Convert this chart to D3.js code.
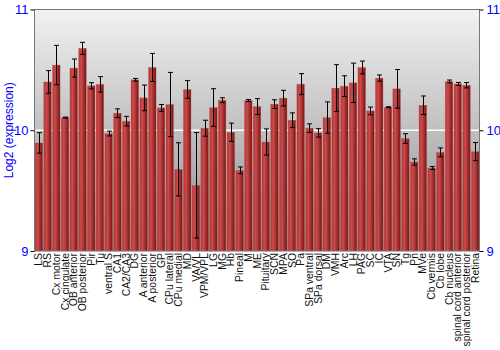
<!DOCTYPE html>
<html>
<head>
<meta charset="utf-8">
<script src="https://cdn.jsdelivr.net/npm/d3@7"></script>
<style>
  body { margin: 0; background: #fff; }
  text { font-family: "Liberation Sans", Arial, sans-serif; }
</style>
</head>
<body>
<svg></svg>
<script>
let width = 500;
let height = 350;

// brain regions
let regions = ["LS", "RS", "Cx motor", "Cx cingulate", "OB anterior", "OB posterior", "Pir", "Tu",
  "ventral S", "CA1", "CA2/CA3", "DG", "A anterior", "A posterior", "GP", "CPu lateral", "CPu medial",
  "MD", "VA/VL", "VPM/VPL", "LG", "MG", "Hb", "Pineal", "M", "ME", "Pituitary", "SCN", "MPA", "SO",
  "Pa", "SPa ventral", "SPa dorsal", "DM", "VMH", "Arc", "LH", "PAG", "SC", "IC", "VTA", "SN", "Tg",
  "Pn", "MVe", "Cb vermis", "Cb lobe", "Cb nucleus", "spinal cord anterior", "spinal cord posterior", "Retina"];

let means = [9.895, 10.40, 10.54, 10.105, 10.515, 10.678, 10.368, 10.38,
  9.973, 10.141, 10.075, 10.418, 10.268, 10.52, 10.185, 10.213, 9.676,
  10.338, 9.544, 10.017, 10.188, 10.249, 9.983, 9.668, 10.246, 10.196, 9.903, 10.216, 10.266, 10.083,
  10.382, 10.017, 9.978, 10.105, 10.349, 10.365, 10.393, 10.52, 10.16, 10.432, 10.191, 10.343, 9.931,
  9.737, 10.207, 9.687, 9.817, 10.404, 10.384, 10.373, 9.823];

let errs = [0.085, 0.094, 0.163, 0.004, 0.075, 0.05, 0.026, 0.064,
  0.02, 0.036, 0.04, 0.011, 0.106, 0.116, 0.028, 0.266, 0.22,
  0.073, 0.437, 0.066, 0.156, 0.02, 0.076, 0.028, 0.008, 0.066, 0.108, 0.036, 0.065, 0.061,
  0.087, 0.036, 0.035, 0.13, 0.194, 0.086, 0.163, 0.053, 0.032, 0.026, 0.004, 0.16, 0.04,
  0.026, 0.077, 0.012, 0.037, 0.012, 0.012, 0.022, 0.075];

let yTicks = [9, 10, 11];

let data = regions.map((r, i) => ({ name: r, mean: means[i], err: errs[i] }));

let plotLeft = 34.5, plotRight = 479.5, plotTop = 9.5, plotBottom = 251;

let svg = d3.select("svg")
            .attr("width", width)
            .attr("height", height);

let defs = svg.append("defs");

let bg = defs.append("linearGradient")
             .attr("id", "bg")
             .attr("x1", 0).attr("y1", 0).attr("x2", 0).attr("y2", 1);
bg.append("stop").attr("offset", "0%").attr("stop-color", "#f2f2f2");
bg.append("stop").attr("offset", "100%").attr("stop-color", "#8c8c8c");

let barGrad = defs.append("linearGradient")
                  .attr("id", "bar")
                  .attr("x1", 0).attr("y1", 0).attr("x2", 1).attr("y2", 0);
barGrad.append("stop").attr("offset", "0%").attr("stop-color", "#b03636");
barGrad.append("stop").attr("offset", "35%").attr("stop-color", "#cc4a4a");
barGrad.append("stop").attr("offset", "100%").attr("stop-color", "#761414");

let xScale = d3.scaleBand()
               .domain(regions)
               .range([plotLeft, plotRight])
               .paddingInner(0.13)
               .paddingOuter(0.06);

let yScale = d3.scaleLinear()
               .domain([9, 11])
               .range([plotBottom, plotTop]);

// plot background
svg.append("rect")
   .attr("x", plotLeft)
   .attr("y", plotTop)
   .attr("width", plotRight - plotLeft)
   .attr("height", plotBottom - plotTop)
   .attr("fill", "url(#bg)");

// white line at 10
svg.append("line")
   .attr("x1", plotLeft).attr("x2", plotRight)
   .attr("y1", yScale(10)).attr("y2", yScale(10))
   .attr("stroke", "#fff")
   .attr("stroke-width", 1.5);

svg.selectAll("rect.bar")
  .data(data)
  .enter()
  .append("rect")
  .attr("class", "bar")
  .attr("x", (d) => xScale(d.name))
  .attr("y", (d) => yScale(d.mean))
  .attr("width", xScale.bandwidth())
  .attr("height", (d) => yScale(9) - yScale(d.mean))
  .attr("fill", "url(#bar)")
  .attr("stroke", "#c85a5a")
  .attr("stroke-opacity", 0.6)
  .attr("stroke-width", 0.5);

// error bars
let eb = svg.selectAll("g.err")
            .data(data)
            .enter()
            .append("g")
            .attr("class", "err")
            .attr("stroke", "#000")
            .attr("stroke-width", 1);

let cx = (d) => Math.round(xScale(d.name) + xScale.bandwidth() / 2) + 0.5;

eb.append("line")
  .attr("x1", cx).attr("x2", cx)
  .attr("y1", (d) => yScale(d.mean + d.err))
  .attr("y2", (d) => yScale(d.mean - d.err));
eb.append("line")
  .attr("x1", (d) => cx(d) - 2.5).attr("x2", (d) => cx(d) + 2.5)
  .attr("y1", (d) => yScale(d.mean + d.err))
  .attr("y2", (d) => yScale(d.mean + d.err));
eb.append("line")
  .attr("x1", (d) => cx(d) - 2.5).attr("x2", (d) => cx(d) + 2.5)
  .attr("y1", (d) => yScale(d.mean - d.err))
  .attr("y2", (d) => yScale(d.mean - d.err));

// frame
svg.append("rect")
   .attr("x", plotLeft)
   .attr("y", plotTop)
   .attr("width", plotRight - plotLeft)
   .attr("height", plotBottom - plotTop)
   .attr("fill", "none")
   .attr("stroke", "#777");

// axes
let yLeft = svg.append("g")
   .attr("transform", "translate(" + plotLeft + ",0)")
   .call(d3.axisLeft(yScale).tickValues(yTicks).tickFormat(d3.format("d")).tickSize(4).tickPadding(2));

let yRight = svg.append("g")
   .attr("transform", "translate(" + plotRight + ",0)")
   .call(d3.axisRight(yScale).tickValues(yTicks).tickFormat(d3.format("d")).tickSize(4).tickPadding(3));

[yLeft, yRight].forEach((g) => {
  g.select(".domain").remove();
  g.selectAll(".tick line").attr("stroke", "#000");
  g.selectAll(".tick text")
   .attr("fill", "#0000ff")
   .style("font-size", "13px")
   .style("font-family", "'Liberation Sans', Arial, sans-serif");
});

let xAxis = svg.append("g")
   .attr("transform", "translate(0," + plotBottom + ")")
   .call(d3.axisBottom(xScale).tickSize(0).tickPadding(0));

xAxis.select(".domain").remove();
xAxis.selectAll(".tick text")
     .attr("transform", "rotate(-90)")
     .attr("text-anchor", "end")
     .attr("x", -2)
     .attr("y", 0)
     .attr("dy", "0.35em")
     .attr("fill", "#111")
     .style("font-size", "10.4px")
     .style("font-family", "'Liberation Sans', Arial, sans-serif");

svg.append("text")
   .attr("transform", "translate(13," + ((plotTop + plotBottom) / 2) + ") rotate(-90)")
   .attr("text-anchor", "middle")
   .attr("fill", "#0000ff")
   .style("font-size", "12px")
   .text("Log2 (expression)");
</script>
</body>
</html>
